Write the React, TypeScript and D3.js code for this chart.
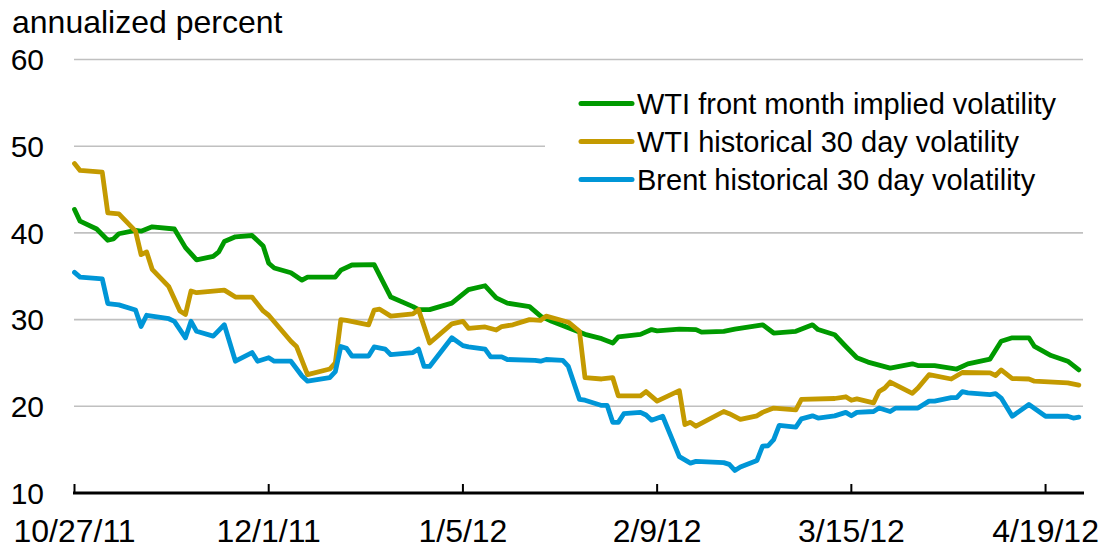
import * as d3 from "d3";
import { useEffect, useRef } from "react";

type Pt = [string, number];

const seriesNames = [
  "WTI front month implied volatility",
  "WTI historical 30 day volatility",
  "Brent historical 30 day volatility",
];
const seriesColors = ["#009a00", "#c49a00", "#0096d7"];

const wtiImplied: Pt[] = [
  ["10/27/11", 42.7], ["10/28/11", 41.35], ["10/31/11", 40.45], ["11/2/11", 39.15],
  ["11/3/11", 39.3], ["11/4/11", 39.9], ["11/7/11", 40.3], ["11/8/11", 40.2],
  ["11/10/11", 40.7], ["11/14/11", 40.45], ["11/16/11", 38.3], ["11/18/11", 36.9],
  ["11/21/11", 37.3], ["11/22/11", 37.8], ["11/23/11", 39.0], ["11/25/11", 39.55],
  ["11/28/11", 39.7], ["11/30/11", 38.5], ["12/1/11", 36.5], ["12/2/11", 35.95],
  ["12/5/11", 35.4], ["12/7/11", 34.55], ["12/8/11", 34.9], ["12/13/11", 34.9],
  ["12/14/11", 35.7], ["12/16/11", 36.3], ["12/20/11", 36.35], ["12/23/11", 32.6],
  ["12/27/11", 31.5], ["12/28/11", 31.15], ["12/30/11", 31.15], ["1/3/12", 31.9],
  ["1/6/12", 33.45], ["1/9/12", 33.9], ["1/11/12", 32.5], ["1/13/12", 31.9],
  ["1/17/12", 31.5], ["1/19/12", 30.4], ["1/21/12", 29.8], ["1/24/12", 29.05],
  ["1/27/12", 28.3], ["1/30/12", 27.8], ["2/1/12", 27.3], ["2/2/12", 28.0],
  ["2/6/12", 28.3], ["2/8/12", 28.85], ["2/9/12", 28.7], ["2/13/12", 28.9],
  ["2/16/12", 28.85], ["2/17/12", 28.55], ["2/21/12", 28.65], ["2/23/12", 28.9],
  ["2/28/12", 29.4], ["3/1/12", 28.45], ["3/5/12", 28.65], ["3/8/12", 29.4],
  ["3/9/12", 28.85], ["3/12/12", 28.25], ["3/14/12", 26.9], ["3/16/12", 25.6],
  ["3/18/12", 25.1], ["3/22/12", 24.4], ["3/26/12", 24.9], ["3/27/12", 24.7],
  ["3/30/12", 24.7], ["4/3/12", 24.3], ["4/5/12", 24.9], ["4/9/12", 25.45],
  ["4/11/12", 27.5], ["4/13/12", 27.9], ["4/16/12", 27.9], ["4/17/12", 26.9],
  ["4/20/12", 25.85], ["4/23/12", 25.2], ["4/25/12", 24.2],
];

const wtiHistorical: Pt[] = [
  ["10/27/11", 48.0], ["10/28/11", 47.2], ["11/1/11", 47.0], ["11/2/11", 42.3],
  ["11/4/11", 42.2], ["11/7/11", 40.2], ["11/8/11", 37.5], ["11/9/11", 37.8],
  ["11/10/11", 35.8], ["11/13/11", 33.8], ["11/15/11", 31.0], ["11/16/11", 30.6],
  ["11/17/11", 33.3], ["11/18/11", 33.1], ["11/23/11", 33.4], ["11/25/11", 32.6],
  ["11/28/11", 32.6], ["11/30/11", 31.0], ["12/1/11", 30.5], ["12/3/11", 29.0],
  ["12/5/11", 27.5], ["12/6/11", 26.9], ["12/8/11", 23.65], ["12/12/11", 24.3],
  ["12/13/11", 25.0], ["12/14/11", 30.0], ["12/15/11", 29.9], ["12/19/11", 29.4],
  ["12/20/11", 31.1], ["12/21/11", 31.2], ["12/23/11", 30.4], ["12/27/11", 30.65],
  ["12/28/11", 31.15], ["12/30/11", 27.3], ["1/3/12", 29.5], ["1/5/12", 29.8],
  ["1/6/12", 29.0], ["1/9/12", 29.15], ["1/11/12", 28.8], ["1/12/12", 29.2],
  ["1/14/12", 29.4], ["1/17/12", 30.0], ["1/19/12", 29.9], ["1/20/12", 30.4],
  ["1/24/12", 29.7], ["1/26/12", 28.65], ["1/27/12", 23.3], ["1/30/12", 23.15],
  ["2/1/12", 23.3], ["2/2/12", 21.2], ["2/6/12", 21.2], ["2/7/12", 21.7],
  ["2/9/12", 20.6], ["2/13/12", 21.8], ["2/14/12", 17.9], ["2/15/12", 18.15],
  ["2/16/12", 17.7], ["2/21/12", 19.4], ["2/22/12", 19.15], ["2/24/12", 18.5],
  ["2/27/12", 18.9], ["2/28/12", 19.3], ["3/1/12", 19.8], ["3/5/12", 19.6],
  ["3/6/12", 20.8], ["3/12/12", 20.9], ["3/14/12", 21.1], ["3/15/12", 20.7],
  ["3/16/12", 20.85], ["3/19/12", 20.4], ["3/20/12", 21.7], ["3/21/12", 22.1],
  ["3/22/12", 22.8], ["3/26/12", 21.5], ["3/27/12", 22.1], ["3/29/12", 23.65],
  ["4/2/12", 23.15], ["4/4/12", 23.9], ["4/9/12", 23.85], ["4/10/12", 23.55],
  ["4/11/12", 24.2], ["4/13/12", 23.2], ["4/16/12", 23.15], ["4/17/12", 22.9],
  ["4/23/12", 22.7], ["4/25/12", 22.45],
];

const brentHistorical: Pt[] = [
  ["10/27/11", 35.45], ["10/28/11", 34.9], ["11/1/11", 34.7], ["11/2/11", 31.85],
  ["11/4/11", 31.7], ["11/7/11", 31.1], ["11/8/11", 29.2], ["11/9/11", 30.5],
  ["11/13/11", 30.1], ["11/14/11", 29.8], ["11/16/11", 27.9], ["11/17/11", 29.8],
  ["11/18/11", 28.65], ["11/21/11", 28.1], ["11/23/11", 29.4], ["11/25/11", 25.2],
  ["11/28/11", 26.2], ["11/29/11", 25.2], ["12/1/11", 25.6], ["12/2/11", 25.2],
  ["12/5/11", 25.2], ["12/7/11", 23.5], ["12/8/11", 22.9], ["12/12/11", 23.3],
  ["12/13/11", 24.0], ["12/14/11", 26.9], ["12/15/11", 26.7], ["12/16/11", 25.8],
  ["12/19/11", 25.8], ["12/20/11", 26.85], ["12/22/11", 26.6], ["12/23/11", 25.95],
  ["12/27/11", 26.2], ["12/28/11", 26.6], ["12/29/11", 24.6], ["12/30/11", 24.6],
  ["1/3/12", 27.9], ["1/5/12", 27.0], ["1/6/12", 26.85], ["1/9/12", 26.6],
  ["1/10/12", 25.7], ["1/12/12", 25.7], ["1/13/12", 25.4], ["1/18/12", 25.3],
  ["1/19/12", 25.2], ["1/20/12", 25.4], ["1/23/12", 25.3], ["1/24/12", 24.6],
  ["1/26/12", 20.8], ["1/27/12", 20.7], ["1/30/12", 20.1], ["1/31/12", 20.1],
  ["2/1/12", 18.15], ["2/2/12", 18.15], ["2/3/12", 19.15], ["2/6/12", 19.3],
  ["2/7/12", 19.0], ["2/8/12", 18.4], ["2/10/12", 18.85], ["2/13/12", 14.2],
  ["2/15/12", 13.45], ["2/16/12", 13.65], ["2/21/12", 13.5], ["2/22/12", 13.3],
  ["2/23/12", 12.6], ["2/24/12", 13.0], ["2/27/12", 13.75], ["2/28/12", 15.4],
  ["2/29/12", 15.45], ["3/1/12", 16.15], ["3/2/12", 17.8], ["3/5/12", 17.6],
  ["3/6/12", 18.55], ["3/8/12", 18.9], ["3/9/12", 18.65], ["3/12/12", 18.9],
  ["3/14/12", 19.3], ["3/15/12", 18.9], ["3/16/12", 19.3], ["3/19/12", 19.4],
  ["3/20/12", 19.8], ["3/22/12", 19.4], ["3/23/12", 19.8], ["3/27/12", 19.8],
  ["3/29/12", 20.6], ["3/30/12", 20.6], ["4/2/12", 21.0], ["4/3/12", 21.0],
  ["4/4/12", 21.7], ["4/5/12", 21.55], ["4/9/12", 21.35], ["4/10/12", 21.45],
  ["4/11/12", 20.95], ["4/13/12", 18.85], ["4/16/12", 20.2], ["4/19/12", 18.85],
  ["4/23/12", 18.85], ["4/24/12", 18.65], ["4/25/12", 18.75],
];

const allSeries = [wtiImplied, wtiHistorical, brentHistorical];

const tickDates = ["10/27/11", "12/1/11", "1/5/12", "2/9/12", "3/15/12", "4/19/12"];
const yTicks = [10, 20, 30, 40, 50, 60];
const gridValues = [20, 30, 40, 50, 60];
const domainDates = ["10/27/11", "4/26/12"];

export default function App() {
  const svgRef = useRef<SVGSVGElement | null>(null);

  useEffect(() => {
    const width = 1105;
    const height = 548;
    const font = "'Liberation Sans', Arial, sans-serif";
    const parse = d3.utcParse("%m/%d/%y");
    const fmt = d3.utcFormat("%-m/%-d/%y");

    const svg = d3.select(svgRef.current);
    svg.selectAll("*").remove();
    svg.attr("width", width).attr("height", height);

    const x = d3
      .scaleUtc()
      .domain(domainDates.map((d) => parse(d) as Date))
      .range([74.5, 1084.4]);
    const y = d3.scaleLinear().domain([10, 60]).range([493, 59.5]);

    // gridlines
    svg
      .append("g")
      .selectAll("line")
      .data(gridValues)
      .join("line")
      .attr("x1", 74)
      .attr("x2", 1083)
      .attr("y1", (d) => y(d))
      .attr("y2", (d) => y(d))
      .attr("stroke", "#c0c0c0")
      .attr("stroke-width", 1.6);

    // legend background hides part of the grid
    svg
      .append("rect")
      .attr("x", 545)
      .attr("y", 78)
      .attr("width", 545)
      .attr("height", 125)
      .attr("fill", "#fff");

    // title
    svg
      .append("text")
      .attr("x", 12)
      .attr("y", 33)
      .attr("font-family", font)
      .attr("font-size", 32)
      .attr("fill", "#000")
      .text("annualized percent");

    // y labels
    svg
      .append("g")
      .selectAll("text")
      .data(yTicks)
      .join("text")
      .attr("x", 44)
      .attr("y", (d) => y(d))
      .attr("dy", "0.36em")
      .attr("text-anchor", "end")
      .attr("font-family", font)
      .attr("font-size", 30)
      .text((d) => d);

    // x axis
    const axisY = y(10);
    svg
      .append("line")
      .attr("x1", 73)
      .attr("x2", 1084)
      .attr("y1", axisY)
      .attr("y2", axisY)
      .attr("stroke", "#000")
      .attr("stroke-width", 3);

    const ticks = tickDates.map((d) => parse(d) as Date);
    svg
      .append("g")
      .selectAll("line")
      .data(ticks)
      .join("line")
      .attr("x1", (d) => x(d))
      .attr("x2", (d) => x(d))
      .attr("y1", axisY)
      .attr("y2", axisY - 9)
      .attr("stroke", "#000")
      .attr("stroke-width", 2);

    svg
      .append("g")
      .selectAll("text")
      .data(ticks)
      .join("text")
      .attr("x", (d) => x(d))
      .attr("y", 542)
      .attr("text-anchor", "middle")
      .attr("font-family", font)
      .attr("font-size", 32)
      .text((d) => fmt(d));

    // series
    const line = d3
      .line<Pt>()
      .x((d) => x(parse(d[0]) as Date))
      .y((d) => y(d[1]));

    svg
      .append("g")
      .selectAll("path")
      .data(allSeries)
      .join("path")
      .attr("fill", "none")
      .attr("stroke", (_, i) => seriesColors[i])
      .attr("stroke-width", 4.8)
      .attr("stroke-linejoin", "round")
      .attr("stroke-linecap", "round")
      .attr("d", (d) => line(d));

    // legend
    const legend = svg
      .append("g")
      .selectAll("g")
      .data(seriesNames)
      .join("g")
      .attr("transform", (_, i) => `translate(0, ${103.5 + i * 38})`);

    legend
      .append("line")
      .attr("x1", 581)
      .attr("x2", 632)
      .attr("stroke", (_, i) => seriesColors[i])
      .attr("stroke-width", 5)
      .attr("stroke-linecap", "round");

    legend
      .append("text")
      .attr("x", 637)
      .attr("dy", "0.36em")
      .attr("font-family", font)
      .attr("font-size", 29)
      .text((d) => d);
  }, []);

  return (
    <svg
      ref={svgRef}
      style={{ position: "absolute", left: 0, top: 0, display: "block", background: "#fff" }}
    />
  );
}
